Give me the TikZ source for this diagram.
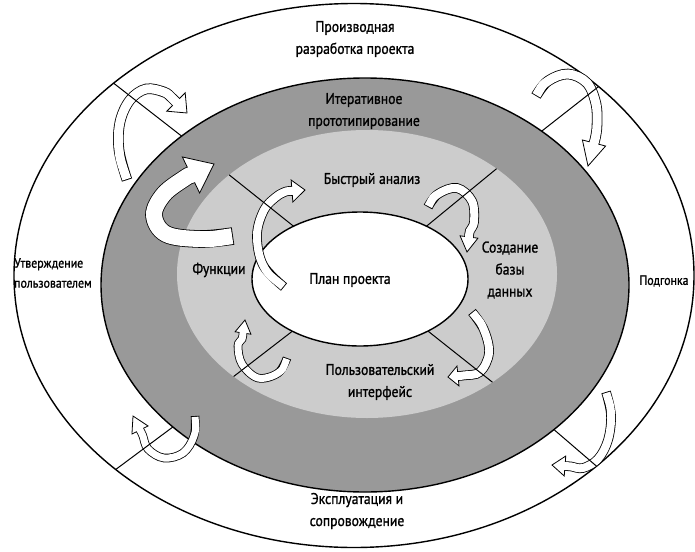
\documentclass[tikz,border=0pt]{standalone}
\usepackage{fontspec}
\setmainfont{PT Sans}[FakeStretch=0.88,FakeBold=1.2]
\usetikzlibrary{calc}
\definecolor{ringdark}{gray}{0.6}
\definecolor{ringlight}{gray}{0.8}

% hollow block arrow: #1 outline width, #2 body width, #3 head half width,
% #4 body points, #5 head base, #6 tip
\newcommand\hollowarrow[6]{%
  \coordinate (hA) at ($#5!#3!90:#6$);
  \coordinate (hB) at ($#5!#3!-90:#6$);
  \coordinate (hP) at ($#5!-6pt!#6$);
  \coordinate (hE) at ($#5!3pt!#6$);
  \draw[line width=#1, line cap=butt] plot[smooth, tension=0.6] coordinates {#4 (hP) #5 (hE)};
  \filldraw[fill=white, draw=black, line width=0.8pt, line join=miter] (hA) -- #6 -- (hB) -- cycle;
  \draw[white, line width=#2, shorten <=0.9pt] plot[smooth, tension=0.6] coordinates {#4 (hP) #5 (hE)};
}

\begin{document}
\begin{tikzpicture}[x=1pt,y=-1pt,
  lbl/.style={font=\fontsize{15.5}{22}\selectfont, align=center, inner sep=0pt},
  slbl/.style={font=\fontsize{13.5}{20}\selectfont, align=left, inner sep=0pt},
  border/.style={draw=black, line width=1.4pt},
  radial/.style={line width=1pt}]
\useasboundingbox (0,0) rectangle (695,551);

% centres of the ellipses
\coordinate (cO) at (354,275.5);
\coordinate (cD) at (365,285);
\coordinate (cL) at (367,274);
\coordinate (cI) at (360,279);

% rings
\filldraw[border, fill=white] (cO) ellipse [x radius=340, y radius=272];
\filldraw[border, fill=ringdark] (cD) ellipse [x radius=264, y radius=207];
\fill[ringlight] (cL) ellipse [x radius=190, y radius=144];
\filldraw[border, fill=white] (cI) ellipse [x radius=108, y radius=67];

% radial line end points
\coordinate (l1a) at ($(cO)+(225:340 and 272)$);
\coordinate (l1b) at ($(cD)+(226:264 and 207)$);
\coordinate (l2a) at ($(cO)+(316:340 and 272)$);
\coordinate (l2b) at ($(cD)+(312:264 and 207)$);
\coordinate (l3a) at ($(cO)+(134.5:340 and 272)$);
\coordinate (l3b) at ($(cD)+(136.7:264 and 207)$);
\coordinate (l4a) at ($(cO)+(44.5:340 and 272)$);
\coordinate (l4b) at ($(cD)+(44.3:264 and 207)$);
\coordinate (l5a) at ($(cL)+(223.5:190 and 144)$);
\coordinate (l5b) at ($(cI)+(232:108 and 67)$);
\coordinate (l6a) at ($(cL)+(313:190 and 144)$);
\coordinate (l6b) at ($(cI)+(308:108 and 67)$);
\coordinate (l7a) at ($(cL)+(134.6:190 and 144)$);
\coordinate (l7b) at ($(cI)+(128.8:108 and 67)$);
\coordinate (l8a) at ($(cL)+(48.7:190 and 144)$);
\coordinate (l8b) at ($(cI)+(51:108 and 67)$);

% arrows, outer ring
\hollowarrow{10.6pt}{9pt}{13pt}{(127,180) (119,150) (120,122) (130,100) (146,89) (164,92)}{(176,102)}{(187,113)}
\hollowarrow{10.6pt}{9pt}{12pt}{(536,96) (548,81) (568,74) (587,83) (596,104) (597,125)}{(594,143)}{(588,166)}
\hollowarrow{8.6pt}{7pt}{9pt}{(195,416) (194,436) (183,453) (164,458) (148,449)}{(140,430)}{(133,416)}
\hollowarrow{9.6pt}{8pt}{10pt}{(606,392) (611,415) (608,440) (598,459) (583,468)}{(565,466)}{(552,465)}
% big arrow, dark ring
\hollowarrow{17.6pt}{16pt}{20pt}{(233,236) (200,239) (166,234) (154,215) (164,194)}{(191,175)}{(214,164)}
% arrows, light ring
\hollowarrow{9.6pt}{8pt}{11pt}{(284,287) (263,265) (257,235) (264,210) (276,197)}{(292,191)}{(305,190)}
\hollowarrow{9.6pt}{8pt}{9pt}{(428,207) (438,194) (457,188) (472,201) (474,222)}{(469,237)}{(467,252)}
\hollowarrow{9.6pt}{8pt}{10pt}{(472,312) (484,330) (489,353) (480,372)}{(458,376)}{(448,377)}
\hollowarrow{8.6pt}{7pt}{8pt}{(287,358) (278,373) (258,378) (242,364) (238,346)}{(243,333)}{(245,320)}

% radial lines
\draw[radial] (l1a) -- (l1b);
\draw[radial] (l2a) -- (l2b);
\draw[radial] (l3a) -- (l3b);
\draw[radial] (l4a) -- (l4b);
\draw[radial] (l5a) -- (l5b);
\draw[radial] (l6a) -- (l6b);
\draw[radial] (l7a) -- (l7b);
\draw[radial] (l8a) -- (l8b);

% labels
\node[lbl] (tProizv) at (355,39) {Производная\\разработка проекта};
\node[lbl] (tIter) at (364,111) {Итеративное\\прототипирование};
\node[lbl] (tBystr) at (372,180) {Быстрый анализ};
\node[lbl] (tSozd) at (510,270) {Создание\\базы\\данных};
\node[lbl] (tPlan) at (350,280) {План проекта};
\node[lbl] (tFunk) at (219,270) {Функции};
\node[lbl] (tPolz) at (380,382) {Пользовательский\\интерфейс};
\node[lbl] (tExpl) at (357,511) {Эксплуатация и\\сопровождение};
\node[slbl, anchor=west] (tUtv) at (14,273) {Утверждение\\пользователем};
\node[slbl] (tPodg) at (664,281) {Подгонка};
\end{tikzpicture}
\end{document}
